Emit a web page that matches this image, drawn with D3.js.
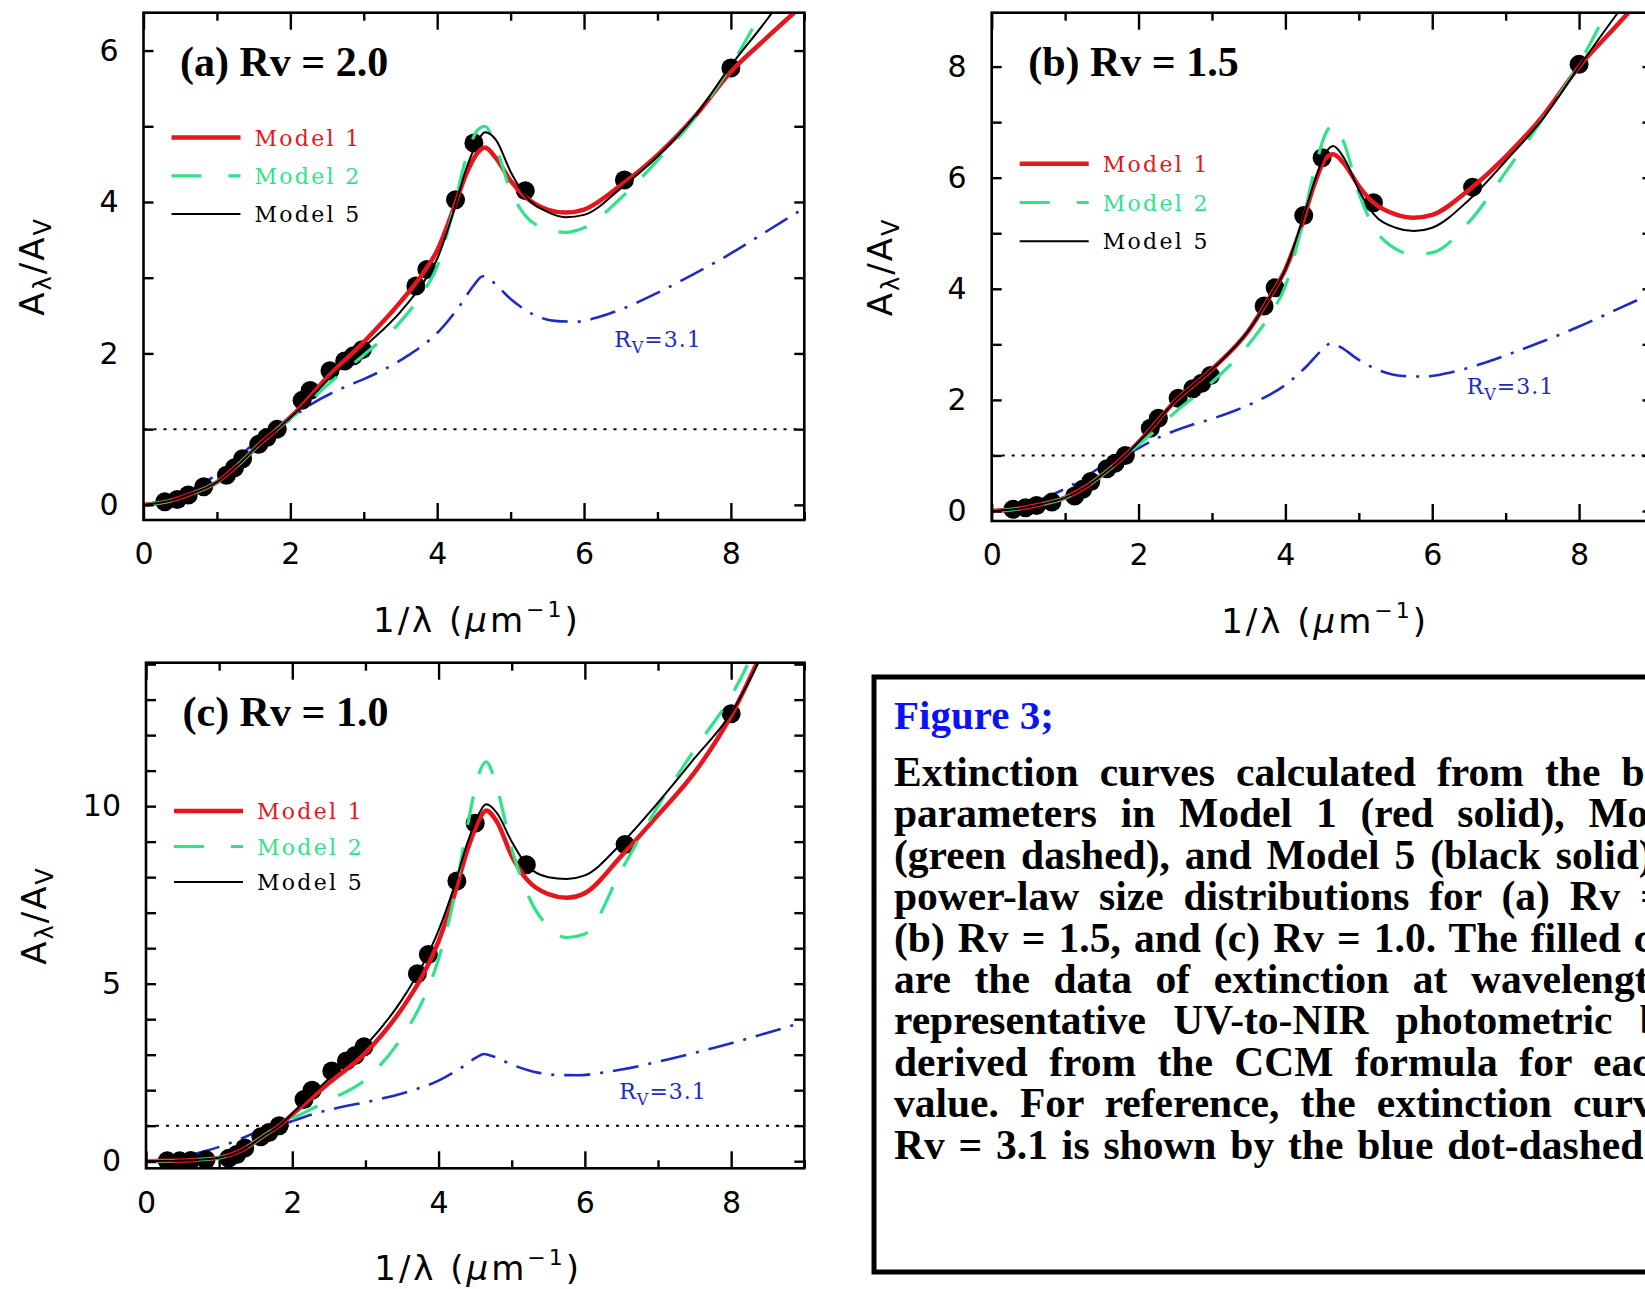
<!DOCTYPE html>
<html>
<head>
<meta charset="utf-8">
<script src="https://cdn.jsdelivr.net/npm/d3@7"></script>
<style>
  body { margin: 0; background: #fff; overflow: hidden; }
  svg { display: block; }
</style>
</head>
<body>
<svg id="fig" width="1645" height="1289"></svg>
<script>
// sampling in 1/lambda (um^-1) for the model curves
const xGrid = [0, 0.3, 0.6, 1.0, 1.3, 1.6, 1.82, 2.1, 2.5, 3.0, 3.5, 3.8, 4.0, 4.2, 4.4, 4.55, 4.65, 4.8, 5.0, 5.2, 5.5, 5.75, 6.0, 6.5, 7.0, 7.5, 8.0, 8.5, 9.0];

// (a) Rv = 2.0
const model1A = [0, 0.04, 0.13, 0.30, 0.54, 0.82, 1.0, 1.25, 1.68, 2.15, 2.68, 3.05, 3.36, 3.85, 4.38, 4.65, 4.72, 4.58, 4.28, 4.07, 3.9, 3.86, 3.9, 4.22, 4.62, 5.12, 5.72, 6.18, 6.62];
const model2A = [0, 0.04, 0.13, 0.30, 0.54, 0.82, 1.0, 1.22, 1.58, 1.98, 2.42, 2.8, 3.15, 3.82, 4.6, 4.95, 5.0, 4.72, 4.15, 3.82, 3.64, 3.6, 3.66, 4.05, 4.55, 5.1, 5.8, 6.65, 7.55];
const model5A = [0, 0.04, 0.13, 0.30, 0.54, 0.82, 1.0, 1.24, 1.64, 2.08, 2.55, 2.92, 3.25, 3.8, 4.45, 4.8, 4.92, 4.82, 4.4, 4.08, 3.87, 3.8, 3.83, 4.18, 4.6, 5.12, 5.8, 6.42, 7.1];

// (b) Rv = 1.5
const model1B = [0, 0.03, 0.10, 0.24, 0.45, 0.75, 1.0, 1.38, 1.98, 2.55, 3.25, 3.88, 4.35, 5.05, 5.9, 6.35, 6.42, 6.25, 5.85, 5.55, 5.34, 5.28, 5.33, 5.78, 6.38, 7.1, 8.0, 8.72, 9.45];
const model2B = [0, 0.03, 0.10, 0.24, 0.45, 0.75, 1.0, 1.3, 1.78, 2.32, 3.0, 3.55, 4.05, 5.0, 6.15, 6.8, 6.95, 6.62, 5.72, 5.12, 4.72, 4.62, 4.65, 5.2, 6.1, 7.05, 8.05, 9.3, 10.5];
const model5B = [0, 0.03, 0.10, 0.24, 0.45, 0.75, 1.0, 1.38, 1.98, 2.55, 3.25, 3.88, 4.35, 5.1, 5.95, 6.45, 6.57, 6.35, 5.78, 5.35, 5.1, 5.04, 5.1, 5.6, 6.3, 7.05, 8.0, 8.92, 9.8];

// (c) Rv = 1.0
const model1C = [0, 0.01, 0.03, 0.1, 0.3, 0.7, 1.0, 1.5, 2.2, 3.05, 4.3, 5.3, 6.2, 7.4, 8.8, 9.6, 9.88, 9.55, 8.6, 7.95, 7.52, 7.42, 7.55, 8.6, 9.75, 10.95, 12.55, 14.7, 17.0];
const model2C = [0, 0.01, 0.03, 0.1, 0.3, 0.7, 1.0, 1.3, 1.72, 2.3, 3.5, 4.6, 5.7, 7.3, 9.5, 10.9, 11.25, 10.5, 8.8, 7.6, 6.6, 6.3, 6.4, 8.2, 10.0, 11.6, 13.1, 15.2, 17.5];
const model5C = [0, 0.01, 0.03, 0.1, 0.3, 0.7, 1.0, 1.55, 2.32, 3.25, 4.55, 5.6, 6.5, 7.65, 9.0, 9.78, 10.05, 9.8, 9.0, 8.35, 8.0, 7.95, 8.05, 8.95, 10.1, 11.35, 12.62, 14.6, 17.0];

// Rv = 3.1 reference curve, same in every panel
const ccmX = [0, 0.3, 0.5, 0.8, 1.1, 1.5, 1.82, 2.27, 2.75, 3.0, 3.3, 3.6, 4.0, 4.3, 4.5, 4.62, 4.75, 5.0, 5.3, 5.6, 5.9, 6.2, 6.5, 7.0, 7.5, 8.0, 8.5, 9.0];
const ccmY = [0, 0.06, 0.13, 0.28, 0.47, 0.80, 1.0, 1.32, 1.56, 1.66, 1.80, 1.97, 2.27, 2.62, 2.9, 3.02, 2.95, 2.72, 2.52, 2.43, 2.42, 2.48, 2.58, 2.8, 3.05, 3.32, 3.62, 3.92];

// photometric band positions and CCM extinction at each
const bandX = [0.29, 0.46, 0.61, 0.82, 1.13, 1.24, 1.35, 1.57, 1.68, 1.82, 2.16, 2.27, 2.54, 2.74, 2.86, 2.98, 3.71, 3.86, 4.25, 4.5, 5.2, 6.55, 8.0];
const obsA = [0.04, 0.07, 0.13, 0.24, 0.39, 0.49, 0.61, 0.80, 0.89, 1.0, 1.38, 1.51, 1.77, 1.90, 1.97, 2.05, 2.89, 3.11, 4.03, 4.78, 4.15, 4.29, 5.77];
const obsB = [0.03, 0.06, 0.10, 0.16, 0.27, 0.39, 0.53, 0.76, 0.86, 1.0, 1.49, 1.67, 2.03, 2.20, 2.30, 2.44, 3.69, 4.02, 5.32, 6.36, 5.55, 5.83, 8.04];
const obsC = [0.01, 0.01, 0.02, 0.04, 0.08, 0.19, 0.37, 0.69, 0.81, 1.0, 1.74, 2.0, 2.54, 2.82, 2.98, 3.22, 5.28, 5.82, 7.89, 9.52, 8.35, 8.92, 12.60];

const xTicksMajor = [0, 2, 4, 6, 8];
const xTicksMinor = [1, 3, 5, 7, 9];
const legendNames = ['Model 1', 'Model 2', 'Model 5'];

const captionTitle = 'Figure 3;';
const captionLines = [
  'Extinction curves calculated from the best-fit',
  'parameters in Model 1 (red solid), Model 2',
  '(green dashed), and Model 5 (black solid) with',
  'power-law size distributions for (a) Rv = 2.0,',
  '(b) Rv = 1.5, and (c) Rv = 1.0. The filled circles',
  'are the data of extinction at wavelengths of',
  'representative UV-to-NIR photometric bands',
  'derived from the CCM formula for each Rv',
  'value. For reference, the extinction curve for',
  'Rv = 3.1 is shown by the blue dot-dashed line.'
];

const RED = '#e5161c', GREEN = '#2fe38a', BLUE = '#1e2cc4';

const panels = [
  { id: 'a', tag: '(a) Rv = 2.0', box: { left: 143.5, right: 804.3, top: 12.7, bottom: 520 },
    yDomain: [-0.2, 6.5], yLabelStep: 2, m1: model1A, m2: model2A, m5: model5A, obs: obsA,
    rvAt: [6.41, 2.19], legTop: 124.8, legGap: 38.3 },
  { id: 'b', tag: '(b) Rv = 1.5', box: { left: 991.7, right: 1652.5, top: 12.7, bottom: 521 },
    yDomain: [-0.18, 8.97], yLabelStep: 2, m1: model1B, m2: model2B, m5: model5B, obs: obsB,
    rvAt: [6.47, 2.25], legTop: 151, legGap: 38.8 },
  { id: 'c', tag: '(c) Rv = 1.0', box: { left: 146, right: 804.3, top: 662.7, bottom: 1168.3 },
    yDomain: [-0.2, 14.04], yLabelStep: 5, m1: model1C, m2: model2C, m5: model5C, obs: obsC,
    rvAt: [6.47, 1.97], legTop: 148.3, legGap: 35.5 }
];

const svg = d3.select('#fig');
svg.append('rect').attr('width', 1645).attr('height', 1289).attr('fill', '#fff');

panels.forEach(function (p) {
  const W = p.box.right - p.box.left, H = p.box.bottom - p.box.top;
  const x = d3.scaleLinear().domain([0, 9]).range([0, W]);
  const y = d3.scaleLinear().domain(p.yDomain).range([H, 0]);
  const g = svg.append('g').attr('transform', 'translate(' + p.box.left + ',' + p.box.top + ')');

  g.append('clipPath').attr('id', 'clip-' + p.id)
    .append('rect').attr('width', W).attr('height', H);
  const plot = g.append('g').attr('clip-path', 'url(#clip-' + p.id + ')');

  const line = d3.line().x(d => x(d[0])).y(d => y(d[1])).curve(d3.curveMonotoneX);

  // A = Av reference level
  plot.append('line')
    .attr('x1', 0).attr('x2', W).attr('y1', y(1)).attr('y2', y(1))
    .attr('stroke', '#000').attr('stroke-width', 2).attr('stroke-dasharray', '3,7');

  plot.append('path').datum(d3.zip(ccmX, ccmY))
    .attr('d', line).attr('fill', 'none')
    .attr('stroke', BLUE).attr('stroke-width', 2.6).attr('stroke-dasharray', '26,10,3,10');

  plot.selectAll('circle.obs').data(d3.zip(bandX, p.obs)).enter()
    .append('circle').attr('class', 'obs')
    .attr('cx', d => x(d[0])).attr('cy', d => y(d[1])).attr('r', 9.5).attr('fill', '#000');

  plot.append('path').datum(d3.zip(xGrid, p.m1))
    .attr('d', line).attr('fill', 'none').attr('stroke', RED).attr('stroke-width', 4.5);
  plot.append('path').datum(d3.zip(xGrid, p.m2))
    .attr('d', line).attr('fill', 'none').attr('stroke', GREEN).attr('stroke-width', 3.2)
    .attr('stroke-dasharray', '29,23');
  plot.append('path').datum(d3.zip(xGrid, p.m5))
    .attr('d', line).attr('fill', 'none').attr('stroke', '#000').attr('stroke-width', 2);

  // frame and inward ticks on all four sides
  g.append('rect').attr('width', W).attr('height', H)
    .attr('fill', 'none').attr('stroke', '#000').attr('stroke-width', 2.6);

  const yVals = d3.range(0, Math.floor(p.yDomain[1]) + 1);
  const fmt = d3.format('d');

  g.append('g').attr('class', 'ax xlab').attr('transform', 'translate(0,' + H + ')')
    .call(d3.axisBottom(x).tickValues(xTicksMajor).tickSize(-17).tickPadding(23).tickFormat(fmt));
  g.append('g').attr('class', 'ax').attr('transform', 'translate(0,' + H + ')')
    .call(d3.axisBottom(x).tickValues(xTicksMinor).tickSize(-8).tickFormat(''));
  g.append('g').attr('class', 'ax')
    .call(d3.axisTop(x).tickValues(xTicksMajor).tickSize(-17).tickFormat(''));
  g.append('g').attr('class', 'ax')
    .call(d3.axisTop(x).tickValues(xTicksMinor).tickSize(-8).tickFormat(''));
  g.append('g').attr('class', 'ax ylab')
    .call(d3.axisLeft(y).tickValues(yVals).tickSize(-10).tickPadding(25)
      .tickFormat(d => d % p.yLabelStep === 0 ? fmt(d) : ''));
  g.append('g').attr('class', 'ax').attr('transform', 'translate(' + W + ',0)')
    .call(d3.axisRight(y).tickValues(yVals).tickSize(-10).tickFormat(''));

  g.selectAll('.ax .domain').remove();
  g.selectAll('.ax .tick line').attr('stroke', '#000').attr('stroke-width', 2.4);
  g.selectAll('.ax .tick text').attr('fill', '#000')
    .attr('font-family', 'DejaVu Sans').attr('font-size', 30);

  // panel tag
  g.append('text').attr('x', 36.5).attr('y', 63.5)
    .attr('font-family', 'Liberation Serif').attr('font-weight', 'bold').attr('font-size', 42)
    .text(p.tag);

  // legend
  const leg = g.append('g').attr('transform', 'translate(28,' + p.legTop + ')');
  const legStyle = [
    { c: RED, w: 4.5, dash: null },
    { c: GREEN, w: 3.2, dash: '30,27' },
    { c: '#000', w: 2, dash: null }
  ];
  legendNames.forEach(function (name, i) {
    const s = legStyle[i];
    const row = leg.append('g').attr('transform', 'translate(0,' + (i * p.legGap) + ')');
    row.append('line').attr('x1', 0).attr('x2', 69).attr('y1', 0).attr('y2', 0)
      .attr('stroke', s.c).attr('stroke-width', s.w).attr('stroke-dasharray', s.dash);
    row.append('text').attr('x', 83).attr('y', 8)
      .attr('font-family', 'DejaVu Serif').attr('font-size', 22).attr('letter-spacing', 2.3)
      .attr('fill', s.c)
      .text(name);
  });

  // Rv = 3.1 curve label
  const rv = g.append('text').attr('x', x(p.rvAt[0])).attr('y', y(p.rvAt[1]) + 8)
    .attr('font-family', 'DejaVu Serif').attr('font-size', 22).attr('letter-spacing', 1)
    .attr('fill', BLUE);
  rv.append('tspan').text('R');
  rv.append('tspan').attr('font-size', 16).attr('dy', 6).text('V');
  rv.append('tspan').attr('dy', -6).text('=3.1');

  // axis titles
  const xt = g.append('text').attr('x', W / 2 + 3).attr('y', H + 112)
    .attr('text-anchor', 'middle').attr('font-family', 'DejaVu Sans').attr('font-size', 34)
    .attr('letter-spacing', 3);
  xt.append('tspan').text('1/λ (');
  xt.append('tspan').attr('font-style', 'italic').text('μ');
  xt.append('tspan').text('m');
  xt.append('tspan').attr('font-size', 22).attr('dy', -15).text('−1');
  xt.append('tspan').attr('dy', 15).text(')');

  const yt = g.append('text')
    .attr('transform', 'translate(-100,' + (H / 2) + ') rotate(-90)')
    .attr('text-anchor', 'middle').attr('font-family', 'DejaVu Sans').attr('font-size', 34)
    .attr('letter-spacing', 2);
  yt.append('tspan').text('A');
  yt.append('tspan').attr('font-size', 24).attr('dy', 7).text('λ');
  yt.append('tspan').attr('dy', -7).text('/A');
  yt.append('tspan').attr('font-size', 24).attr('dy', 7).text('V');
});

// caption box, runs past the right edge
const cap = svg.append('g');
cap.append('rect').attr('x', 874).attr('y', 677).attr('width', 1000).attr('height', 595)
  .attr('fill', 'none').attr('stroke', '#000').attr('stroke-width', 5);
cap.append('text').attr('x', 894).attr('y', 729)
  .attr('font-family', 'Liberation Serif').attr('font-weight', 'bold').attr('font-size', 41)
  .attr('fill', '#0a14f0').text(captionTitle);

// justified body text
const textWidth = 852;
captionLines.forEach(function (t, i) {
  const el = cap.append('text').attr('x', 894).attr('y', 786 + i * 41.4)
    .attr('font-family', 'Liberation Serif').attr('font-weight', 'bold').attr('font-size', 41.5)
    .attr('fill', '#000').text(t);
  const gaps = t.split(' ').length - 1;
  if (i < captionLines.length - 1) {
    const natural = el.node().getComputedTextLength();
    el.style('word-spacing', ((textWidth - natural) / gaps) + 'px');
  } else {
    el.style('word-spacing', '3.5px');
  }
});
</script>
</body>
</html>
